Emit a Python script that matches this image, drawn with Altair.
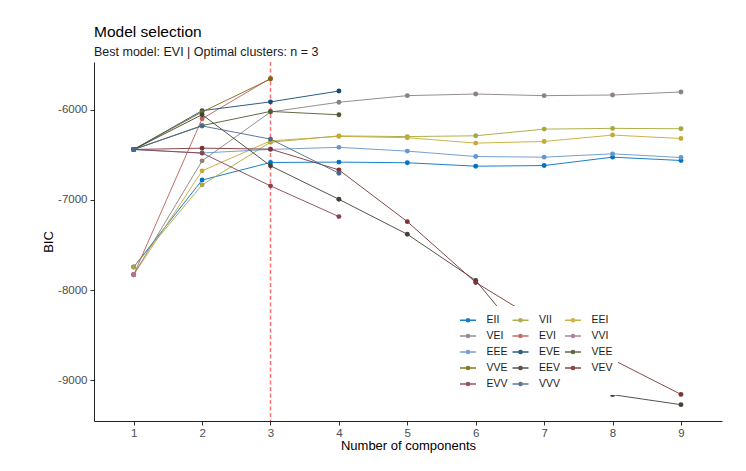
import altair as alt
import pandas as pd

# ---- data -------------------------------------------------------------
models = ["EII", "VII", "EEI", "VEI", "EVI", "VVI", "EEE", "EVE",
          "VEE", "VVE", "EEV", "VEV", "EVV", "VVV"]
colors = ["#0073C2", "#A5A83C", "#C7AA34", "#8B8282", "#BD5F59", "#A7798F",
          "#6796CA", "#134C79", "#4D5C30", "#7C690E", "#424037", "#7D3434",
          "#8A424E", "#4A6990"]
components = [1, 2, 3, 4, 5, 6, 7, 8, 9]

bic_EII = [-7744, -6780, -6585, -6581, -6588, -6626, -6619, -6526, -6563]
bic_VII = [-7744, -6833, -6360, -6290, -6298, -6289, -6215, -6207, -6211]
bic_EEI = [-7830, -6678, -6345, -6296, -6310, -6370, -6352, -6281, -6319]
bic_VEI = [-7830, -6567, -6025, -5917, -5844, -5826, -5844, -5837, -5803]
bic_EVI = [-7830, -6100, -5652, None, None, None, None, None, None]
bic_VVI = [-7830, None, None, None, None, None, None, None, None]
bic_EEE = [-6441, -6480, -6440, -6417, -6459, -6519, -6526, -6489, -6530]
bic_EVE = [-6441, -6011, -5913, -5793, None, None, None, None, None]
bic_VEE = [-6441, -6176, -6019, -6056, None, None, None, None, None]
bic_VVE = [-6441, -6025, -5660, None, None, None, None, None, None]
bic_EEV = [-6441, -6055, -6622, -6993, -7381, -7893, -8810, -9159, -9270]
bic_VEV = [-6441, -6426, -6437, -6667, -7241, -7915, -8379, -8770, -9156]
bic_EVV = [-6441, -6481, -6844, -7185, None, None, None, None, None]
bic_VVV = [-6441, -6180, -6326, -6704, None, None, None, None, None]

best_model = "EVI"
best_k = [3]

series = [bic_EII, bic_VII, bic_EEI, bic_VEI, bic_EVI, bic_VVI, bic_EEE,
          bic_EVE, bic_VEE, bic_VVE, bic_EEV, bic_VEV, bic_EVV, bic_VVV]

rows = []
for m, vals in zip(models, series):
    for k, v in zip(components, vals):
        if v is not None:
            rows.append({"model": m, "k": k, "bic": v})
df = pd.DataFrame(rows)

FONT = "Liberation Sans"
XDOM = [0.42, 9.6]

x_enc = alt.X("k:Q", title="Number of components",
              scale=alt.Scale(domain=XDOM, nice=False, zero=False),
              axis=alt.Axis(values=components, grid=False, tickSize=4,
                            labelPadding=2, titlePadding=1, format="d"))
y_enc = alt.Y("bic:Q", title="BIC",
              scale=alt.Scale(domain=[-9451, -5471], nice=False, zero=False),
              axis=alt.Axis(values=[-9000, -8000, -7000, -6000], grid=False,
                            tickSize=4, labelPadding=3, titlePadding=2,
                            labelExpr="datum.value + ''"))

legend = alt.Legend(
    title=None, orient="none", legendX=360, legendY=244, columns=3,
    direction="horizontal",
    fillColor="white", padding=5, columnPadding=1.5, rowPadding=1,
    symbolType="M-1,0H1M-0.2,0A0.2,0.2,0,1,1,0.2,0A0.2,0.2,0,1,1,-0.2,0Z",
    symbolSize=256, symbolStrokeWidth=1.5, labelOffset=9.5,
    labelFontSize=10.5, labelFont=FONT, labelColor="#1a1a1a",
)
color_enc = alt.Color("model:N", sort=models,
                      scale=alt.Scale(domain=models, range=colors),
                      legend=legend)

base = alt.Chart(df)

rule = alt.Chart(pd.DataFrame({"best_k": best_k})).mark_rule(
    color="red", opacity=0.55, strokeDash=[4, 2.5], strokeWidth=1.5
).encode(x=alt.X("best_k:Q", scale=alt.Scale(domain=XDOM, nice=False, zero=False)))

lines = base.mark_line(strokeWidth=1, opacity=0.9).encode(
    x=x_enc, y=y_enc, color=color_enc, detail="model:N"
)
points = base.mark_circle(size=24, opacity=1).encode(
    x=x_enc, y=y_enc, color=color_enc
)

chart = alt.layer(rule, lines, points).properties(
    width=628, height=359,
    padding={"left": 34, "top": 17, "right": 10, "bottom": 10},
    title=alt.TitleParams(
        "Model selection",
        subtitle=f"Best model: {best_model} | Optimal clusters: n = {best_k[0]}",
        anchor="start", frame="group", font=FONT, fontSize=15.5,
        fontWeight="normal", color="#000000", subtitleFont=FONT,
        subtitleFontSize=12.5, subtitleColor="#1a1a1a", subtitlePadding=5,
        offset=3,
    ),
).configure_view(stroke=None).configure_axis(
    domainColor="#222222", domainWidth=1, tickColor="#333333",
    labelColor="#4D4D4D", labelFont=FONT, labelFontSize=11.5,
    titleFont=FONT, titleFontSize=13, titleFontWeight="normal",
    titleColor="#000000",
).properties(background="white")

chart.save("out.html", embed_options={"renderer": "svg", "actions": False})
